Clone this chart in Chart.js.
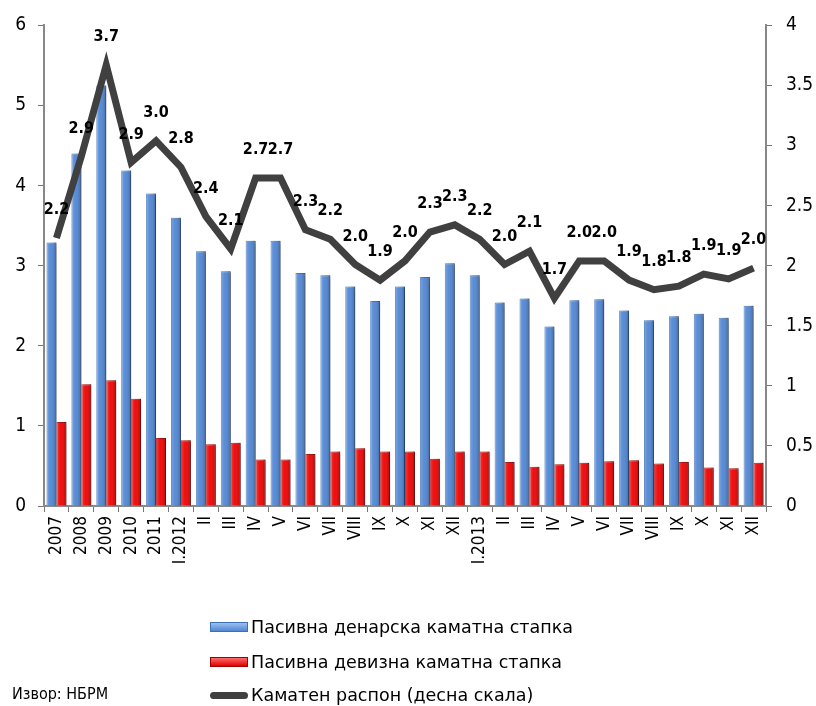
<!DOCTYPE html>
<html>
<head>
<meta charset="utf-8">
<script src="https://cdn.jsdelivr.net/npm/chart.js@4.4.1/dist/chart.umd.min.js"></script>
<style>
    body { margin: 0; background: #fff; }
    #wrap { position: relative; width: 816px; height: 706px; }
    .leg { position: absolute; left: 210px; height: 20px; display: flex; align-items: center;
           font: 17.5px "DejaVu Sans", sans-serif; color: #000; }
    .sw { width: 38px; height: 10px; margin-right: 3px; box-sizing: border-box; }
    .src { position: absolute; left: 12px; top: 684px; font: 16px "DejaVu Sans Condensed", "DejaVu Sans", sans-serif; }
</style>
</head>
<body>
<div id="wrap">
    <canvas id="chart" width="816" height="706"></canvas>
    <div class="leg" style="top:617px"><div class="sw" style="background:linear-gradient(#9cc0ee,#4f86d4);border:1px solid #3b6fb8"></div>Пасивна денарска каматна стапка</div>
    <div class="leg" style="top:652px"><div class="sw" style="background:linear-gradient(#ff6a6a,#e00000);border:1px solid #a00000"></div>Пасивна девизна каматна стапка</div>
    <div class="leg" style="top:685px"><div class="sw" style="height:7px;border-radius:4px;background:#404040"></div>Каматен распон (десна скала)</div>
    <div class="src">Извор: НБРМ</div>
</div>
<script>
const FONT = '"DejaVu Sans Condensed", "DejaVu Sans", sans-serif';

const labels = ["2007", "2008", "2009", "2010", "2011", "I.2012", "II", "III", "IV", "V", "VI", "VII",
    "VIII", "IX", "X", "XI", "XII", "I.2013", "II", "III", "IV", "V", "VI", "VII", "VIII", "IX", "X", "XI", "XII"];

const denarRate = [3.29, 4.40, 5.25, 4.19, 3.90, 3.60, 3.18, 2.93, 3.31, 3.31, 2.91, 2.88,
    2.74, 2.56, 2.74, 2.86, 3.03, 2.88, 2.54, 2.59, 2.24, 2.57, 2.58, 2.44, 2.32, 2.37, 2.40, 2.35, 2.50];

const fxRate = [1.05, 1.52, 1.57, 1.34, 0.85, 0.82, 0.77, 0.79, 0.58, 0.58, 0.65, 0.68,
    0.72, 0.68, 0.68, 0.59, 0.68, 0.68, 0.55, 0.49, 0.52, 0.54, 0.56, 0.57, 0.53, 0.55, 0.48, 0.47, 0.54];

const spread = [2.23, 2.91, 3.67, 2.86, 3.04, 2.82, 2.41, 2.14, 2.73, 2.73, 2.30, 2.22,
    2.01, 1.88, 2.04, 2.28, 2.34, 2.22, 2.01, 2.12, 1.73, 2.04, 2.04, 1.88, 1.80, 1.83, 1.93, 1.89, 1.98];

// shadow + shading on the bars
const barLook = {
    id: "barLook",
    beforeDatasetDraw(chart, args) {
        if (args.meta.type !== "bar") return;
        const ctx = chart.ctx;
        ctx.save();
        ctx.shadowColor = "rgba(0,0,0,0.35)";
        ctx.shadowOffsetX = 4;
        ctx.shadowOffsetY = 1;
        ctx.shadowBlur = 5;
    },
    afterDatasetDraw(chart, args) {
        if (args.meta.type !== "bar") return;
        const ctx = chart.ctx;
        ctx.restore();
        args.meta.data.forEach(el => {
            const left = el.x - el.width / 2;
            const g = ctx.createLinearGradient(left, 0, left + el.width, 0);
            g.addColorStop(0, "rgba(255,255,255,0.25)");
            g.addColorStop(0.4, "rgba(255,255,255,0.05)");
            g.addColorStop(1, "rgba(0,0,0,0.25)");
            ctx.fillStyle = g;
            ctx.fillRect(left, el.y, el.width, el.base - el.y);
        });
    }
};

// values over the spread line
const lineLabels = {
    id: "lineLabels",
    afterDatasetsDraw(chart) {
        const ctx = chart.ctx;
        const meta = chart.getDatasetMeta(2);
        ctx.save();
        ctx.font = "bold 16px " + FONT;
        ctx.fillStyle = "#000";
        ctx.textAlign = "center";
        ctx.textBaseline = "middle";
        meta.data.forEach((p, i) => {
            ctx.fillText(spread[i].toFixed(1), p.x, p.y - 28);
        });
        ctx.restore();
    }
};

new Chart(document.getElementById("chart"), {
    type: "bar",
    data: {
        labels: labels,
        datasets: [{
            label: "Пасивна денарска каматна стапка",
            data: denarRate,
            backgroundColor: "#4f86d4",
            borderColor: "#3b6fb8",
            borderWidth: 1,
            yAxisID: "y",
            order: 1
        }, {
            label: "Пасивна девизна каматна стапка",
            data: fxRate,
            backgroundColor: "#f00000",
            borderColor: "#b00000",
            borderWidth: 1,
            yAxisID: "y",
            order: 2
        }, {
            type: "line",
            label: "Каматен распон (десна скала)",
            data: spread,
            borderColor: "#404040",
            borderWidth: 7,
            pointRadius: 0,
            tension: 0,
            yAxisID: "y1",
            order: 0
        }]
    },
    options: {
        responsive: false,
        animation: false,
        layout: { padding: { top: 25, bottom: 0, left: 0, right: 0 } },
        datasets: { bar: { categoryPercentage: 0.8, barPercentage: 1.0 } },
        plugins: { legend: { display: false }, tooltip: { enabled: false } },
        scales: {
            x: {
                grid: { offset: true, drawOnChartArea: false, color: "#777", tickLength: 6 },
                border: { color: "#888", width: 2 },
                ticks: { minRotation: 90, maxRotation: 90, padding: 4, color: "#000", font: { family: FONT, size: 17 } },
                afterFit(scale) { scale.height = 200; }
            },
            y: {
                position: "left",
                min: 0, max: 6,
                ticks: { stepSize: 1, padding: 12, color: "#000", font: { family: FONT, size: 19 } },
                grid: { drawOnChartArea: false, color: "#777", tickLength: 6 },
                border: { color: "#888", width: 2 },
                afterFit(scale) { scale.width = 44; }
            },
            y1: {
                position: "right",
                min: 0, max: 4,
                ticks: { stepSize: 0.5, padding: 14, color: "#000", font: { family: FONT, size: 19 },
                         crossAlign: "near", callback: v => String(v) },
                grid: { drawOnChartArea: false, color: "#777", tickLength: 6 },
                border: { color: "#888", width: 2 },
                afterFit(scale) { scale.width = 50; }
            }
        }
    },
    plugins: [barLook, lineLabels]
});
</script>
</body>
</html>
